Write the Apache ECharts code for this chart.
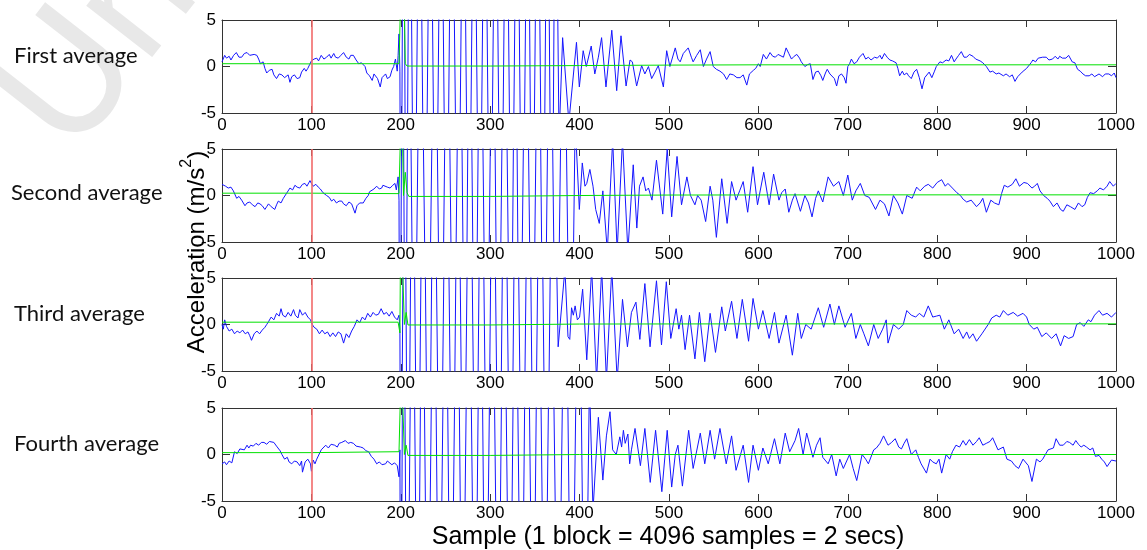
<!DOCTYPE html>
<html>
<head>
<meta charset="utf-8">
<script src="https://cdn.jsdelivr.net/npm/echarts@6/dist/echarts.min.js"></script>
<style>
  html, body { margin: 0; padding: 0; background: #fff; }
  #chart { width: 1147px; height: 550px; }
</style>
</head>
<body>
<div id="chart"></div>
<script>
// labels
var rowNames = ['First average', 'Second average', 'Third average', 'Fourth average'];
var xTitle = 'Sample (1 block = 4096 samples = 2 secs)';
var xTicks = [0, 100, 200, 300, 400, 500, 600, 700, 800, 900, 1000];
var yTicks = [-5, 0, 5];
var markerSample = 100;

// blue traces [sample, m/s2], +-30 = clipped burst swings
var blue1 = [[0,0.5],[3,1.2],[5,0.9],[8,1.1],[10,0.7],[13,1.2],[16,1.5],[19,1.0],[22,1.0],[25,1.4],[28,1.5],[31,1.2],[33,1.0],[36,1.3],[39,1.2],[41,0.8],[43,0.3],[46,0.5],[48,-0.2],[50,-0.7],[53,-0.4],[56,-0.3],[58,-0.9],[61,-1.3],[64,-0.8],[67,-0.9],[70,-1.2],[72,-1.3],[74,-0.9],[76,-1.7],[78,-1.1],[81,-0.9],[84,-1.3],[87,-1.2],[89,-0.6],[92,-0.2],[94,-0.5],[96,-0.2],[98,0.2],[100,0.6],[103,0.8],[106,0.9],[108,0.6],[111,1.2],[114,0.8],[117,1.0],[120,1.3],[122,0.9],[125,1.4],[127,1.0],[130,0.9],[133,1.2],[136,1.5],[139,1.0],[142,0.8],[144,1.2],[147,1.2],[150,0.7],[153,0.3],[156,0.4],[158,0.6],[160,0.0],[162,-0.7],[165,-1.0],[168,-1.5],[170,-0.8],[171,-0.9],[174,-1.3],[177,-2.2],[179,-1.2],[183,-0.8],[185,-1.3],[188,-1.1],[190,-0.4],[192,0.0],[194,0.8],[196,-0.5],[197,1.2],[198,3.5],[199,-0.5],
  [200,-30],[203,30],[206,-30],[210,30],[215,-30],[221,30],[227,-30],[233,30],[239,-30],[245,30],[251,-30],[257,30],[264,-30],[270,30],[276,-30],[282,30],[288,-30],[294,30],[300,-30],[306,30],[312,-30],[318,30],[324,-30],[330,30],[336,-30],[342,30],[347,-30],[353,30],[359,-30],[364,30],[369,-30],[373,30],[377,-8],[381,3.1],[388,-6],
  [396.5,2.6],[399.7,-2.2],[404,1.7],[407.5,0],[413,2.2],[417,-0.8],[421,1.0],[424.6,3.1],[429.5,-2.2],[436,3.9],[441.5,-2.6],[446.3,3.3],[452,-2.1],[456.4,0.7],[459,0.5],[463.8,-2.1],[469.4,0.1],[473,-0.8],[477,0],[480.6,-1.3],[484.4,-0.6],[488,0.1],[493.7,-2.2],[497.4,1.7],
  [501,0],[507,2.0],[510,0.8],[512.5,0.5],[516,1.4],[521.5,2.0],[525,1.0],[527,0.5],[531,1.2],[535,1.8],[538.5,0],[542,0.8],[546,1.6],[549.5,0],[553,-0.3],[557,-0.5],[561,-0.8],[564.5,-1.4],[568,-0.8],[572,-0.9],[576,-1.2],[579.5,-1.2],[583,-0.9],[587,-2.0],[590,-0.8],[594.5,-0.4],[597,-0.2],[600,0.3],
  [602,0],[605.5,1.3],[609,0.8],[613,1.5],[616,1.1],[619,1.0],[622,1.3],[624,1.2],[628,1.0],[631,2.0],[634,1.4],[637,0.8],[640,1.1],[643,1.3],[646,0.9],[648,0.5],[652,0],[655,0.2],[658,0.3],[661,-1.4],[664,-0.6],[667,-0.5],[670,-1.0],[672,-1.5],[675,-0.7],[677,-0.3],[680,-0.8],[682,-1.0],[685,-1.3],[687.5,-2.1],[690,-1.0],[693,-0.8],[696,-1.2],[698,-1.8],[700,0],[702,0.3],[704,0.8],[707,0.3],[710,0.5],[713,1.0],[717,1.4],[720,0.8],[723,1.0],[726,0.7],[730,1.0],[733,0.9],[736,1.2],[738,0.8],[741,1.4],[744,1.0],[747,0.7],[750,0.6],[754,0.4],[756,-0.2],[758,-1.0],[761,-0.5],[763,-0.9],[766,-0.7],[768,-1.0],[771,-1.3],[774,-0.6],[777,-0.3],[780,-1.2],[783,-2.4],[786,-1.2],[788,-1.0],[791,-0.6],[794,-1.2],[797,-0.5],[799,0],[801,-0.2],[803,0.5],[806,0.4],[810,0.7],[813,0.6],[816,1.2],[819,0.5],[821,0.8],[824,1.2],[827,1.6],[830,1.0],[833,1.0],[836,1.3],[840,1.1],[843,0.8],[845,1.0],[848,0.6],[851,0.4],[855,0],[857,-0.2],[859,-0.6],[862,-0.5],[866,-0.8],[869,-0.7],[871,-0.9],[874,-1.0],[877,-0.8],[881,-1.1],[884,-0.9],[887,-1.6],[890,-1.1],[892,-1.0],[895,-0.6],[897,-0.7],[900,-0.2],[902,0],[905,0.4],[907,0.7],[910,0.5],[913,0.9],[915,0.8],[918,1.0],[922,1.0],[925,0.7],[929,0.8],[932,1.1],[935,0.8],[937,1.1],[940,0.9],[944,0.9],[947,1.2],[951,0.5],[954,0.4],[957,-0.3],[960,-0.5],[963,-0.8],[966,-1.0],[970,-1.0],[973,-0.8],[976,-1.1],[978,-1.0],[981,-0.8],[985,-1.1],[988,-0.8],[992,-0.8],[995,-1.0],[998,-0.7],[1000,-1.2]];

var blue2 = [[0,1.2],[1.5,1.2],[4,1.0],[7,0.8],[10,0.9],[12.7,0.5],[14,0.6],[16.4,-0.3],[19,-0.1],[22,-0.5],[24,-0.4],[25.7,-1.1],[28,-0.8],[31,-0.7],[34,-1.0],[37,-1.2],[40,-0.8],[42.5,-0.9],[45,-1.1],[48,-1.5],[50,-1.2],[52,-0.9],[55,-1.2],[59,-1.5],[61,-1.0],[63,-0.6],[66,-0.8],[68.6,-0.3],[70,-0.2],[72,0.2],[74,0.1],[76,0.8],[79,0.6],[81.6,1.1],[84,0.9],[87,0.8],[90,1.2],[92.8,1.3],[95,1.0],[98.4,1.6],[100,1.3],[102,1.0],[105,1.2],[107.7,0.9],[110,0.7],[113,0.3],[115,0.5],[117,0],[120,-0.2],[122.6,-0.6],[125,-0.4],[128,-0.8],[131,-0.6],[134,-0.6],[136,-0.9],[139,-1.1],[142,-0.7],[145,-0.9],[148.8,-1.9],[151,-1.1],[154,-0.8],[156,-1.0],[158,-0.8],[161,-0.3],[163.6,0],[165,0.4],[167,0.5],[170,0.7],[173,1.0],[176,0.7],[178.6,0.8],[180,1.1],[182,1.3],[185,0.9],[188,0.8],[191,1.1],[193.5,1.3],[195,0.6],[197,2.0],[198,-0.5],
  [199,-30],[202,30],[205,-30],[209,30],[215,-30],[222,30],[230,-30],[238,30],[245,-30],[252,30],[259,-30],[266,30],[272,-30],[277,30],[283,-30],[289,30],[296,-30],[303,30],[309,-30],[316,30],[323,-30],[328,30],[333,-30],[340,30],[347,-30],[354,30],[360,-30],[367,30],[374,-30],[382,30],[390,-30],[395,8],
  [399.7,-1.5],[403,3.5],[406,1.0],[408,1.3],[411.5,2.8],[415,1.0],[418,-1.5],[422,-3.0],[426,0.5],[431,-6],[437,6],[442,-6],[448,6],[454,-6],[460,3.3],[464,-3.5],[467,1.0],[471,2.0],[474,0.5],[477,0.8],[481,-0.5],[486,3.8],[493,-2.0],[498,5.0],[503,-2.3],[509,4.2],[514,-1.0],[520,2.0],[524,0],[529,-1.0],[532,0],[536,-0.5],[541,-2.8],[546,1.0],[549,-0.5],[553,-4.5],[559,1.8],[565,-3.0],[570,1.5],[575,-0.5],[579,0.5],[583,1.5],[588,-1.8],[594,3.1],[599,-1.0],[606,2.5],[612,-1.0],[617,2.3],[623,-0.5],[626,0.3],[630,0.7],[634,-1.8],[638,-0.5],[641,0.2],[647,-1.7],[652,0],[656,-0.8],[660,-2.3],[664,-0.3],[667,0.5],[672,-0.7],[678,2.0],[684,1.0],[690,1.5],[695,0],[700,2.2],[705,-0.5],[709,0.5],[714,1.3],[719,0],[724,-0.2],[731,-1.5],[736,-0.5],[741,-0.9],[746,-2.2],[751,0],[756,-0.8],[761,-2.0],[766,0],[772,-0.3],[777,0.9],[781,0.5],[786,1.0],[790,1.2],[795,0.8],[800,1.4],[805,1.7],[809,1.0],[812,1.3],[817,0.8],[822,0.3],[826,0.0],[829,-0.4],[833,-0.7],[838,-0.5],[844,-1.2],[848,-0.8],[851,-0.3],[855,-1.8],[860,-0.5],[864,-0.8],[869,-1.0],[872,0.2],[875,1.1],[879,0.9],[884,1.2],[888,1.8],[892,1.0],[897,1.4],[901,1.3],[906,0.8],[909,1.0],[912,1.3],[915,0.5],[919,0],[923,-0.3],[926,-0.6],[930,-1.2],[934,-0.8],[938,-1.5],[941,-1.7],[945,-1.0],[949,-1.2],[954,-1.5],[958,-0.8],[962,-1.2],[965,-1.0],[968,-0.2],[971,0.3],[975,0.2],[979,0.5],[982,0.8],[986,0.6],[990,1.0],[993,1.5],[997,1.0],[1000,1.3]];

var blue3 = [[0,0],[1.5,-0.5],[3,0.5],[5,-0.2],[8,-0.7],[11,-0.5],[14,-1.0],[17,-0.7],[20,-0.9],[23,-0.6],[26,-1.0],[29,-0.8],[31,-1.2],[33,-1.7],[36,-1.0],[39,-0.7],[42,-1.0],[45,-0.6],[48,-0.3],[50,0],[52,0.3],[55,0.8],[58,0.5],[61,1.2],[64,0.9],[66,1.7],[68,1.0],[71,0.8],[74,1.3],[77,0.9],[80,1.6],[82,1.0],[85,0.7],[87,1.6],[90,1.0],[93,1.3],[96,0.8],[99,0.5],[101,0],[103,-0.3],[106,-0.5],[109,-1.0],[112,-0.6],[115,-1.0],[118,-0.8],[121,-1.3],[124,-0.9],[127,-1.3],[130,-0.8],[133,-1.0],[136,-2.0],[139,-1.0],[142,-1.4],[145,-0.7],[148,-0.2],[151,0.5],[154,0.2],[157,0.8],[160,0.5],[163,1.2],[166,0.8],[169,1.3],[172,1.0],[175,1.1],[178,1.7],[181,1.1],[184,1.3],[187,0.9],[190,1.4],[193,0.8],[196,0.5],[198,1.0],[199,-0.5],
  [200,-30],[204,30],[208,-30],[213,30],[219,-30],[225,30],[231,-30],[237,30],[244,-30],[251,30],[258,-30],[264,30],[270,-30],[277,30],[284,-30],[290,30],[297,-30],[303,30],[310,-30],[316,30],[323,-30],[329,30],[336,-30],[343,30],[349,-30],[356,30],[363,-30],[370,30],[376,-2.4],[383.6,6],
  [387,-1.3],[389,-1.6],[391,1.8],[393,1.0],[395,2.0],[397.5,0.5],[400,0.8],[403.4,3.8],[408,-3.8],[413.5,6],[419,-6],[424.7,6],[430,-6],[436,6],[442,-6],[448,2.7],[453.5,-2.4],[458,1.3],[463,2.4],[467.4,-1.6],[473,4.4],[478.8,-2.4],[486,4.7],[491.6,-2.2],[497,4.6],[502,-1.5],[508,1.7],[511,-0.5],[514,1.0],[518,-2.7],[523,1.0],[529,-3.7],[534,1.3],[540,-4.0],[546,1.2],[552,-3.0],[559,1.9],[563,-0.7],[570,2.5],[576,-1.5],[582,2.7],[589,-1.8],[594,2.8],[600,-0.5],[605,1.5],[612,-1.5],[618,1.3],[623,-2.0],[631,1.0],[638,-3.3],[644,1.2],[648,-1.5],[653,0],[659,-0.5],[667,1.8],[673,-0.3],[680,2.2],[685,0],[690,2.0],[697,-0.3],[704,1.2],[709,-1.5],[714,0],[718,-1.0],[723,-2.3],[729,0],[734,-1.5],[739,-0.5],[743,0.5],[745,-2.0],[751,0],[757,-0.5],[762,0],[766,1.5],[771,1.0],[776,0.8],[780,1.2],[785,0.8],[790,2.0],[795,0.8],[799,0.9],[803,1.0],[808,-0.5],[813,0.5],[819,-1.0],[824,-0.5],[829,-1.5],[833,-0.8],[836,-1.5],[840,-1.0],[844,-1.8],[850,-1.0],[857,0],[861,0.7],[866,1.0],[870,0.8],[874,1.5],[879,1.0],[885,1.3],[890,0.9],[896,1.2],[900,0.8],[903,0],[908,-0.5],[912,-0.3],[917,-1.3],[922,-0.9],[928,-1.5],[933,-1.0],[938,-2.3],[942,-1.2],[947,-1.5],[952,-1.3],[956,0],[960,0.2],[964,-0.2],[969,0.5],[972,0.3],[976,1.0],[981,1.5],[985,1.0],[990,1.2],[995,0.8],[1000,1.3]];

var blue4 = [[0,-1.0],[3,-0.8],[5,-1.1],[8,-0.7],[11,-0.9],[14,0.3],[17,0.1],[20,0.6],[22,0.8],[25,0.5],[28,1.0],[30,0.7],[32,1.0],[35,0.9],[38,1.2],[41,1.0],[44,1.3],[47,1.3],[50,1.1],[53,1.4],[55,1.2],[58,1.3],[61,0.9],[63,0.8],[65,0.4],[67,0],[70,-0.5],[73,-0.3],[75,-0.8],[78,-1.0],[81,-0.7],[84,-0.8],[87,-1.2],[89,-0.7],[90,-1.9],[93,-0.8],[96,-0.5],[99,-1.0],[100,-1.8],[102,-0.6],[104,-1.0],[106,-0.5],[108,-0.3],[111,0.5],[113,0.3],[116,1.0],[119,0.7],[122,1.1],[126,1.0],[129,0.8],[131,1.2],[134,1.3],[136,1.1],[138,1.5],[141,1.2],[144,1.3],[147,1.2],[150,0.9],[152,1.1],[155,0.8],[158,0.7],[161,0.4],[164,0.3],[167,-0.2],[170,-0.5],[173,-1.0],[176,-0.8],[179,-1.1],[181,-0.9],[183,-1.0],[185,-0.7],[187,-0.8],[190,-1.1],[193,-0.9],[196,-1.2],[198,-2.4],[199,0.5],
  [200,-30],[203,30],[207,-30],[213,30],[219,-30],[224,30],[230,-30],[237,30],[243,-30],[250,30],[256,-30],[263,30],[269,-30],[276,30],[283,-30],[289,30],[295,-30],[302,30],[309,-30],[315,30],[322,-30],[328,30],[335,-30],[341,30],[348,-30],[354,30],[361,-30],[368,30],[376,-30],[384,30],[391,-30],[399,30],[406,-30],[411,8],[415,-6],
  [421,4.0],[426,-2.75],[430,2.0],[434,4.6],[437,0.5],[441,0],[445,1.9],[447,0.8],[449,2.6],[451,1.2],[454,2.2],[456,-1.0],[458,0.5],[462,2.8],[468,-1.2],[473,2.8],[479,-3.0],[485,2.6],[492,-4.0],[498,2.6],[503,-3.5],[507,0],[510,1.0],[515,-3.4],[522,2.6],[527,-1.5],[535,2.3],[540,-1.0],[546,2.6],[551,-0.5],[557,2.8],[564,-1.0],[570,2.0],[575,-1.7],[583,1.0],[589,-3.0],[594,1.0],[600,-1.7],[605,0.7],[611,-1.0],[618,1.7],[624,-1.0],[630,2.3],[635,0.3],[641,1.5],[645,2.8],[650,0],[654,2.3],[661,-0.3],[665,1.0],[669,1.8],[672,-0.3],[678,-1.0],[682,0],[687,-2.3],[691,-0.5],[695,-1.5],[702,0],[706,-1.5],[710,-2.8],[716,0],[720,-0.5],[723,-1.0],[729,0.5],[732,0.7],[736,1.2],[740,2.0],[745,1.0],[749,1.3],[753,1.7],[757,0.8],[760,0.6],[763,1.2],[766,1.7],[771,0],[776,0.5],[779,-0.3],[782,-1.0],[788,-2.0],[792,-0.5],[795,-0.8],[799,-1.0],[802,-0.5],[805,-2.0],[810,0],[814,-0.5],[817,0.3],[821,1.0],[825,0.8],[829,1.5],[832,1.0],[836,1.6],[840,1.0],[844,1.4],[847,1.8],[851,1.0],[855,1.2],[859,1.4],[862,1.8],[868,0.5],[874,0.8],[878,-0.5],[883,-0.7],[887,-1.2],[891,-1.5],[896,-0.5],[902,-1.2],[906,-2.9],[911,-0.5],[915,-0.8],[918,-0.5],[924,0.5],[930,0.7],[933,1.7],[937,1.0],[941,1.0],[945,1.4],[948,1.3],[952,1.0],[955,1.5],[958,1.1],[961,0.8],[964,1.0],[967,0.8],[971,0.5],[974,0.7],[977,-0.2],[981,-0.1],[984,-0.5],[987,-0.8],[990,-1.3],[995,-0.6],[1000,-0.7]];

// green traces
var green1 = [[0,0.3],[50,0.3],[100,0.28],[150,0.3],[198,0.3],[199.5,6],[204,6],[205,0.3],[207,0.05],[300,0.05],[400,0.1],[500,0.15],[600,0.18],[800,0.18],[1000,0.18]];
var green2 = [[0,0.25],[100,0.25],[198,0.2],[199.5,6],[202,6],[203,0],[205,2.5],[207,0.3],[209,-0.1],[300,-0.1],[400,0],[500,0.05],[700,0.07],[1000,0.07]];
var green3 = [[0,0.25],[100,0.25],[197,0.25],[199,-0.9],[199.5,6],[202,6],[204,0],[206,1.3],[208,-0.05],[300,-0.05],[400,0.05],[600,0.07],[1000,0.07]];
var green4 = [[0,0.2],[100,0.2],[198,0.3],[199,0.5],[199.5,6],[202,6],[204,0],[206,1.0],[208,-0.1],[300,-0.1],[400,0],[600,0],[1000,0]];

var blues = [blue1, blue2, blue3, blue4];
var greens = [green1, green2, green3, green4];

var tops = [20, 149, 278, 408];
var labelCenters = [56, 193, 314, 444];
var axisColor = '#333';
var tickFont = 'Liberation Sans, Arial, sans-serif';

var grids = [], xAxes = [], yAxes = [], series = [], graphics = [];

// watermark, behind everything
graphics.push({
    type: 'text', x: 95, y: 178, rotation: 52 * Math.PI / 180, z: -10,
    style: { text: 'Univ', fontSize: 165, fontFamily: 'Lato, sans-serif', fill: '#e8e8e8', align: 'left', verticalAlign: 'bottom' }
});

tops.forEach(function (top, i) {
    grids.push({ left: 222, top: top, width: 894, height: 93, show: false });

    ['bottom', 'top'].forEach(function (pos) {
        xAxes.push({
            gridIndex: i, type: 'value', position: pos,
            min: xTicks[0], max: xTicks[xTicks.length - 1], interval: 100,
            axisLine: { show: true, onZero: false, lineStyle: { color: axisColor, width: 1 } },
            axisTick: { show: true, inside: true, length: 7, lineStyle: { color: axisColor } },
            axisLabel: {
                show: pos === 'bottom', color: '#000', fontSize: 17, fontFamily: tickFont, margin: 4,
                formatter: function (v) { return String(v); }
            },
            splitLine: { show: false }
        });
    });
    ['left', 'right'].forEach(function (pos) {
        yAxes.push({
            gridIndex: i, type: 'value', position: pos,
            min: yTicks[0], max: yTicks[yTicks.length - 1], interval: 5,
            axisLine: { show: true, onZero: false, lineStyle: { color: axisColor, width: 1 } },
            axisTick: { show: true, inside: true, length: 8, lineStyle: { color: axisColor } },
            axisLabel: { show: pos === 'left', color: '#000', fontSize: 17, fontFamily: tickFont, margin: 6 },
            splitLine: { show: false }
        });
    });

    series.push({
        type: 'line', xAxisIndex: 2 * i, yAxisIndex: 2 * i,
        data: blues[i], showSymbol: false, clip: true, z: 2,
        lineStyle: { color: '#1515ff', width: 1 },
        markLine: {
            silent: true, symbol: ['none', 'none'], z: 5,
            label: { show: false },
            lineStyle: { color: '#f26a6a', width: 1.6, type: 'solid' },
            data: [{ xAxis: markerSample }]
        }
    });
    series.push({
        type: 'line', xAxisIndex: 2 * i, yAxisIndex: 2 * i,
        data: greens[i], showSymbol: false, clip: true, z: 3,
        lineStyle: { color: '#00e000', width: 1 }
    });

    // row name on the left
    graphics.push({
        type: 'text', x: i === 1 ? 11 : 14, y: labelCenters[i],
        style: { text: rowNames[i], fontSize: 22, fontFamily: 'Lato, sans-serif', fill: '#111', align: 'left', verticalAlign: 'middle' }
    });
});

// axis titles
graphics.push({
    type: 'text', x: 194, y: 252, rotation: Math.PI / 2,
    style: {
        text: '{a|Acceleration (m/s}{b|2}{a|)}',
        align: 'center', verticalAlign: 'middle',
        rich: {
            a: { fontSize: 24, fontFamily: tickFont, fill: '#000', lineHeight: 30, verticalAlign: 'bottom' },
            b: { fontSize: 16, fontFamily: tickFont, fill: '#000', lineHeight: 30, verticalAlign: 'top' }
        }
    }
});
graphics.push({
    type: 'text', x: 668, y: 537,
    style: { text: xTitle, fontSize: 25, fontFamily: tickFont, fill: '#000', align: 'center', verticalAlign: 'middle' }
});

var myChart = echarts.init(document.getElementById('chart'));
myChart.setOption({
    animation: false,
    backgroundColor: '#fff',
    grid: grids,
    xAxis: xAxes,
    yAxis: yAxes,
    series: series,
    graphic: graphics
});
</script>
</body>
</html>
